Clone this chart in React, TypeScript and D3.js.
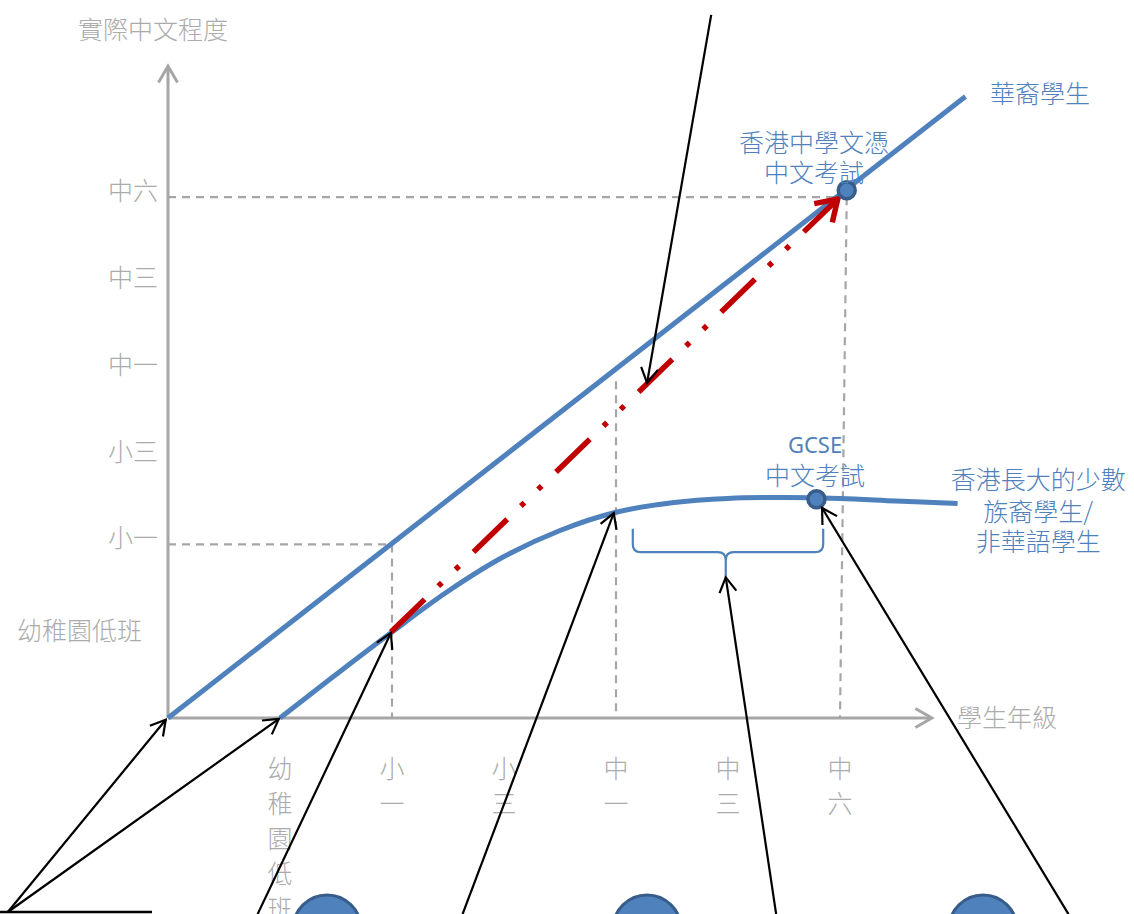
import React from 'react';
import * as d3 from 'd3';

// ---- categories / tick labels (grade levels) ----
const xTickLabels = ['幼稚園低班', '小一', '小三', '中一', '中三', '中六'];
const xTickIndex = [1, 2, 3, 4, 5, 6];
const yTickLabels = ['幼稚園低班', '小一', '小三', '中一', '中三', '中六'];
const yTickIndex = [1, 2, 3, 4, 5, 6];

// ---- series: Chinese students (straight line) ----
const chineseX = [0, 7.12];
const chineseY = [0, 7.16];

// ---- series: HK-raised ethnic minority / non-Chinese-speaking students ----
const minorityX = [1.0, 1.5, 2.0, 2.5, 3.0, 3.5, 4.0, 4.5, 5.0, 5.5, 6.0, 6.5, 7.05];
const minorityY = [0, 0.5, 0.99, 1.46, 1.86, 2.16, 2.37, 2.48, 2.53, 2.54, 2.53, 2.5, 2.47];

// ---- exam markers ----
const examX = [6.06, 5.79];
const examY = [6.08, 2.52];

// ---- red expected-progress arrow ----
const redFrom = [1.99, 0.99];
const redTo = [5.98, 5.98];

// ---- gray guide lines [x1, y1, x2, y2] ----
const guideX1 = [0, 6.06, 0, 2, 4];
const guideY1 = [6, 6, 2, 2, 3.88];
const guideX2 = [6.06, 6.0, 2, 2, 4];
const guideY2 = [6, 0, 2, 0, 0];

// ---- black annotation arrows ----
const annFromX = [4.85, -1.43, -1.43, 0.8, 2.63, 5.43, 8.04];
const annFromY = [8.1, -2.235, -2.235, -2.26, -2.26, -2.26, -2.26];
const annToX = [4.277, -0.02, 0.99, 1.99, 3.98, 4.98, 5.84];
const annToY = [3.86, -0.02, -0.01, 0.98, 2.36, 1.62, 2.42];

// ---- bottom circles ----
const circleX = [1.42, 4.277, 7.277];
const circleY = [-2.43, -2.43, -2.43];

// ---- brace ----
const braceLeft = 4.15;
const braceRight = 5.85;
const braceMid = 4.98;
const braceTop = 2.18;
const braceBar = 1.91;
const braceTip = 1.62;

// ---- text annotations ----
const blueLabels = ['華裔學生', '香港中學文憑', '中文考試', 'GCSE', '中文考試', '香港長大的少數', '族裔學生/', '非華語學生'];
const blueLabelX = [7.34, 5.768, 5.768, 5.777, 5.777, 7.77, 7.77, 7.77];
const blueLabelY = [7.21, 6.647, 6.302, 3.157, 2.811, 2.765, 2.40, 2.05];
const blueLabelAnchor = ['start', 'middle', 'middle', 'middle', 'middle', 'middle', 'middle', 'middle'];

const yAxisTitle = '實際中文程度';
const xAxisTitle = '學生年級';

const W = 1134;
const H = 914;
const BLUE = '#4F81BD';
const BLUE_DARK = '#385D8A';
const GRAY = '#A6A6A6';
const TEXT_GRAY = '#ABABAB';
const RED = '#C00000';
const CJK = '"Noto Sans CJK TC", "Noto Sans CJK SC", sans-serif';

const x = d3.scaleLinear().domain([0, 7]).range([168, 168 + 112 * 7]);
const y = d3.scaleLinear().domain([0, 7]).range([718, 718 - 86.8 * 7]);

function arrowHead(x1: number, y1: number, x2: number, y2: number, len: number, ang = Math.PI / 6) {
  const a = Math.atan2(y2 - y1, x2 - x1);
  const p1 = [x2 - len * Math.cos(a - ang), y2 - len * Math.sin(a - ang)];
  const p2 = [x2 - len * Math.cos(a + ang), y2 - len * Math.sin(a + ang)];
  return `M${p1[0]},${p1[1]}L${x2},${y2}L${p2[0]},${p2[1]}`;
}

export default function App() {
  const lineGen = d3.line<[number, number]>().x(d => x(d[0])).y(d => y(d[1]));
  const chinesePts = chineseX.map((v, i) => [v, chineseY[i]] as [number, number]);
  const minorityPts = minorityX.map((v, i) => [v, minorityY[i]] as [number, number]);
  const curveGen = d3.line<[number, number]>().x(d => x(d[0])).y(d => y(d[1])).curve(d3.curveCatmullRom.alpha(0.5));

  const r = 8;
  const xl = x(braceLeft), xr = x(braceRight), xm = x(braceMid);
  const yt = y(braceTop), yb = y(braceBar), yTip = y(braceTip);
  const bp = d3.path();
  bp.moveTo(xl, yt);
  bp.lineTo(xl, yb - r);
  bp.quadraticCurveTo(xl, yb, xl + r, yb);
  bp.lineTo(xm - r, yb);
  bp.quadraticCurveTo(xm, yb, xm, yb + r);
  bp.lineTo(xm, yTip);
  bp.moveTo(xm, yb + r);
  bp.quadraticCurveTo(xm, yb, xm + r, yb);
  bp.lineTo(xr - r, yb);
  bp.quadraticCurveTo(xr, yb, xr, yb - r);
  bp.lineTo(xr, yt);

  const yAxisTop = 7.51;
  const xAxisRight = 6.82;

  return (
    <svg width={W} height={H} style={{ position: 'absolute', left: 0, top: 0, display: 'block' }}>
      <rect x={0} y={0} width={W} height={H} fill="#fff" />

      {/* guide dashed lines */}
      {guideX1.map((gx, i) => (
        <line key={'g' + i} x1={x(gx)} y1={y(guideY1[i])} x2={x(guideX2[i])} y2={y(guideY2[i])}
          stroke={GRAY} strokeWidth={2.2} strokeDasharray="8 6" />
      ))}

      {/* axes */}
      <line x1={x(0)} y1={y(0)} x2={x(0)} y2={y(yAxisTop)} stroke={GRAY} strokeWidth={3} />
      <path d={arrowHead(x(0), y(0), x(0), y(yAxisTop), 19)} fill="none" stroke={GRAY} strokeWidth={3} />
      <line x1={x(0)} y1={y(0)} x2={x(xAxisRight)} y2={y(0)} stroke={GRAY} strokeWidth={3} />
      <path d={arrowHead(x(0), y(0), x(xAxisRight), y(0), 19)} fill="none" stroke={GRAY} strokeWidth={3} />

      {/* axis titles */}
      <text x={x(-0.134)} y={y(7.95)} fontFamily={CJK} fontWeight={300} fontSize={25} fill={TEXT_GRAY} textAnchor="middle" dominantBaseline="central">{yAxisTitle}</text>
      <text x={x(7.045)} y={y(0.02)} fontFamily={CJK} fontWeight={300} fontSize={25} fill={TEXT_GRAY} textAnchor="start" dominantBaseline="central">{xAxisTitle}</text>

      {/* y tick labels */}
      {yTickLabels.map((lab, i) => (
        <text key={'yl' + i} x={i === 0 ? 142 : 158} y={y(yTickIndex[i]) - (i === 0 ? 2 : 8)} fontFamily={CJK} fontWeight={300} fontSize={25} fill={TEXT_GRAY}
          textAnchor="end" dominantBaseline="central">{lab}</text>
      ))}

      {/* x tick labels (vertical) */}
      {xTickLabels.map((lab, i) => (
        <text key={'xl' + i} fontFamily={CJK} fontWeight={300} fontSize={25} fill={TEXT_GRAY} textAnchor="middle" dominantBaseline="central">
          {lab.split('').map((ch, j) => (
            <tspan key={j} x={x(xTickIndex[i])} y={767 + j * 35}>{ch}</tspan>
          ))}
        </text>
      ))}

      {/* series lines */}
      <path d={lineGen(chinesePts) || ''} fill="none" stroke={BLUE} strokeWidth={5} />
      <path d={curveGen(minorityPts) || ''} fill="none" stroke={BLUE} strokeWidth={5} />

      {/* red dash-dot arrow */}
      <line x1={x(redFrom[0])} y1={y(redFrom[1])} x2={x(redTo[0])} y2={y(redTo[1])}
        stroke={RED} strokeWidth={5.5} strokeDasharray="47 19 5 19 5 20" />
      <path d={arrowHead(x(redFrom[0]), y(redFrom[1]), x(redTo[0]), y(redTo[1]), 24, Math.PI / 5.5)}
        fill="none" stroke={RED} strokeWidth={5.5} />

      {/* brace */}
      <path d={bp.toString()} fill="none" stroke={BLUE} strokeWidth={2.2} />

      {/* exam markers */}
      {examX.map((ex, i) => (
        <circle key={'m' + i} cx={x(ex)} cy={y(examY[i])} r={8.5} fill={BLUE} stroke={BLUE_DARK} strokeWidth={3.5} />
      ))}

      {/* blue labels */}
      {blueLabels.map((lab, i) => (
        <text key={'bl' + i} x={x(blueLabelX[i])} y={y(blueLabelY[i])}
          fontFamily={lab === 'GCSE' ? '"Noto Sans", sans-serif' : CJK}
          fontWeight={lab === 'GCSE' ? 400 : 300}
          fontSize={lab === 'GCSE' ? 22 : 25} fill={BLUE}
          textAnchor={blueLabelAnchor[i] as any} dominantBaseline="central">{lab}</text>
      ))}

      {/* bottom circles */}
      {circleX.map((cx, i) => (
        <circle key={'c' + i} cx={x(cx)} cy={y(circleY[i])} r={34} fill={BLUE} stroke={BLUE_DARK} strokeWidth={3} />
      ))}

      {/* bottom box edge */}
      <line x1={x(-1.5)} y1={y(-2.235)} x2={x(-0.143)} y2={y(-2.235)} stroke="#000" strokeWidth={2.5} />

      {/* black annotation arrows */}
      {annFromX.map((ax, i) => (
        <g key={'a' + i}>
          <line x1={x(ax)} y1={y(annFromY[i])} x2={x(annToX[i])} y2={y(annToY[i])} stroke="#000" strokeWidth={2.2} />
          <path d={arrowHead(x(ax), y(annFromY[i]), x(annToX[i]), y(annToY[i]), 17)} fill="none" stroke="#000" strokeWidth={2.2} />
        </g>
      ))}
    </svg>
  );
}
